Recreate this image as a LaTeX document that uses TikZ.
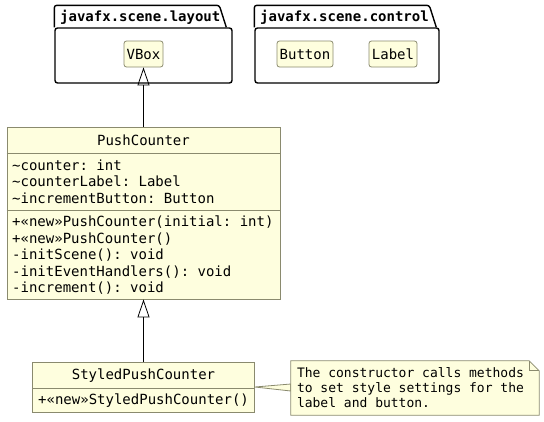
\documentclass[tikz,border=0pt]{standalone}
\usepackage{fontspec}
\setmonofont{DejaVu Sans Mono}
\setsansfont{DejaVu Sans}
\usepackage{tikz}
\usetikzlibrary{arrows.meta, positioning, shapes}
\definecolor{umlfill}{HTML}{FEFEDE}
\definecolor{umlline}{HTML}{8A8A6E}

\begin{document}
\begin{tikzpicture}[x=1pt, y=-1pt,
		classbox/.style={draw=umlline, fill=umlfill, line width=0.8pt, inner sep=0pt},
		smallclass/.style={classbox, rounded corners=2.5pt, minimum height=26pt, font=\ttfamily\fontsize{14}{17}\selectfont},
		pkgbody/.style={draw, line width=1.4pt, rounded corners=2.5pt, inner sep=0pt},
		pkgline/.style={line width=1.4pt, rounded corners=2.5pt},
		pkgtitle/.style={anchor=west, inner sep=0pt, font=\ttfamily\bfseries\fontsize{14}{17}\selectfont},
		classname/.style={inner sep=0pt, font=\ttfamily\fontsize{14}{17}\selectfont},
		members/.style={anchor=north west, align=left, inner sep=0pt, font=\ttfamily\fontsize{14}{16.4}\selectfont},
		notetext/.style={anchor=west, align=left, inner sep=0pt, font=\ttfamily\fontsize{13}{15}\selectfont},
		inherit/.style={-{Triangle[open, length=18pt, width=12pt]}, line width=0.8pt}]
		\useasboundingbox (0,0) rectangle (544,421);
		% packages
		\node[pkgbody, minimum width=177pt, minimum height=55pt] (layoutpkg) at (143.5,55.5) {};
		\draw[pkgline] (layoutpkg.north west) -- ++(0,-22) -- ++(165,0) -- ++(7,22);
		\node[pkgtitle] (layouttitle) at (60,17) {javafx.scene.layout};
		\node[pkgbody, minimum width=184pt, minimum height=55pt] (controlpkg) at (347,55.5) {};
		\draw[pkgline] (controlpkg.north west) -- ++(0,-22) -- ++(175,0) -- ++(7,22);
		\node[pkgtitle] (controltitle) at (260,17) {javafx.scene.control};
		\node[smallclass, minimum width=39pt] (vbox) at (143.5,54) {VBox};
		\node[smallclass, minimum width=56pt] (button) at (305,54) {Button};
		\node[smallclass, minimum width=48pt] (label) at (393,54) {Label};
		% PushCounter
		\node[classbox, minimum width=273pt, minimum height=172pt] (pc) at (143.5,213) {};
		\node[classname] (pcname) at (143.5,140) {PushCounter};
		\draw[umlline, line width=0.8pt] (pc.west |- 0,153) -- (pc.east |- 0,153);
		\draw[umlline, line width=0.8pt] (pc.west |- 0,210) -- (pc.east |- 0,210);
		\node[members] (pcfields) at (12,159.5) {\textasciitilde counter: int\\\textasciitilde counterLabel: Label\\\textasciitilde incrementButton: Button};
		\node[members] (pcmethods) at (12,216) {+«new»PushCounter(initial: int)\\+«new»PushCounter()\\-initScene(): void\\-initEventHandlers(): void\\-increment(): void};
		% StyledPushCounter
		\node[classbox, minimum width=222pt, minimum height=50pt] (spc) at (143.5,387) {};
		\node[classname] (spcname) at (143.5,376) {StyledPushCounter};
		\draw[umlline, line width=0.8pt] (spc.west |- 0,388) -- (spc.east |- 0,388);
		\node[members] (spcmethods) at (38,393.5) {+«new»StyledPushCounter()};
		% note
		\node[minimum width=248pt, minimum height=54pt, inner sep=0pt] (note) at (415,388) {};
		\filldraw[draw=umlline, fill=umlfill, line width=0.8pt] (spc.east) -- ([yshift=4pt]note.west) -- ([yshift=-3pt]note.west) -- cycle;
		\filldraw[draw=umlline, fill=umlfill, line width=0.8pt] (note.north west) -- ([xshift=-10pt]note.north east) -- ([yshift=-10pt]note.north east) -- (note.south east) -- (note.south west) -- cycle;
		\draw[umlline, line width=0.8pt] ([xshift=-10pt]note.north east) -- ([xshift=-10pt, yshift=-10pt]note.north east) -- ([yshift=-10pt]note.north east);
		\node[notetext] (notebody) at ([xshift=6pt]note.west) {The constructor calls methods\\to set style settings for the\\label and button.};
		% inheritance
		\draw[inherit] (pc.north) -- (vbox.south);
		\draw[inherit] (spc.north) -- (pc.south);
\end{tikzpicture}
\end{document}
